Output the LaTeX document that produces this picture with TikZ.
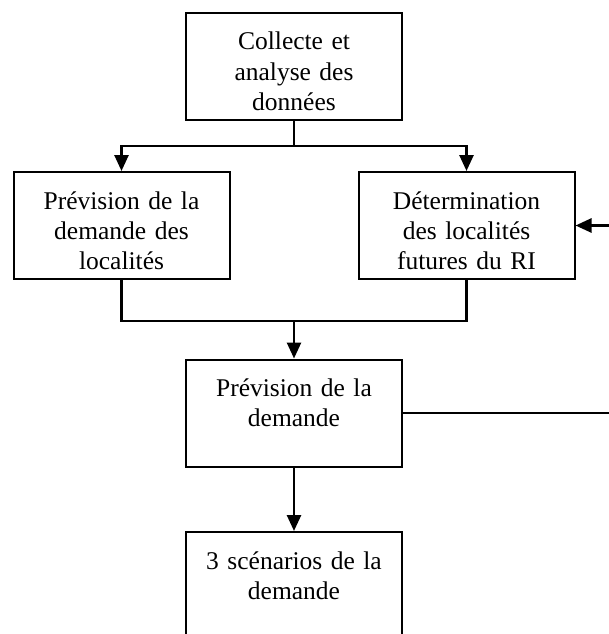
\documentclass[tikz,border=0pt]{standalone}
\usepackage{fontspec}
\setmainfont{Liberation Serif}
\usetikzlibrary{arrows.meta}
\newcommand\stagefont{\fontsize{25.5}{30}\selectfont}
\tikzset{
  stagebox/.style={draw=black, line width=2pt, text width=216pt, inner sep=0pt,
    align=center, text height=37pt, text depth=70pt, font=\stagefont},
  joinline/.style={line width=2.6pt, draw=black},
  flow/.style={joinline, -{Triangle[length=16pt,width=14pt]}},
}

\begin{document}
\begin{tikzpicture}[x=1pt, y=-1pt]
\useasboundingbox (0,0) rectangle (609,634);
\clip (0,0) rectangle (609,634);
\node[stagebox] (collect) at (294,66.5) {Collecte et\\analyse des\\données};
\node[stagebox] (prevloc) at (121.5,225.5) {Prévision de la\\demande des\\localités};
\node[stagebox] (determ) at (466.5,225.5) {Détermination\\des localités\\futures du RI};
\node[stagebox] (prevdem) at (294,413) {Prévision de la\\demande};
\node[stagebox] (scen) at (294,585.5) {3 scénarios de la\\demande};
\coordinate (split) at (294,146);
\coordinate (merge) at (294,321);
\coordinate (loop) at (622,320);
% branches
\draw[joinline] (collect) -- (split);
\draw[flow] (split) -| (prevloc);
\draw[flow] (split) -| (determ);
\draw[joinline] (prevloc) |- (merge);
\draw[joinline] (determ) |- (merge);
\draw[flow] (merge) -- (prevdem);
\draw[flow] (prevdem) -- (scen);
% retour
\draw[flow] (prevdem.east) -| (loop) |- (determ.east);
\end{tikzpicture}
\end{document}
